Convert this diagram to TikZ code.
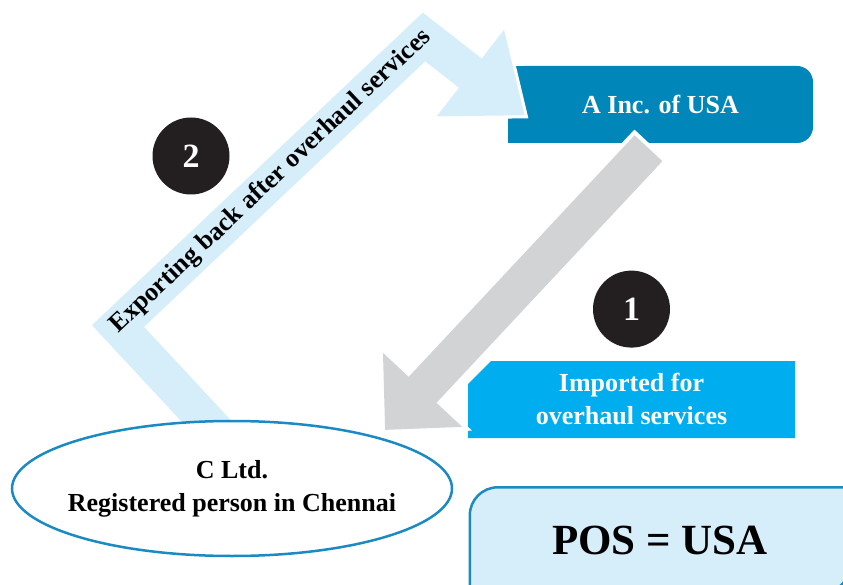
\documentclass[tikz,border=0pt]{standalone}
\usepackage{fontspec}
\setmainfont{Liberation Serif}
\usepackage{xcolor}
\definecolor{posTeal}{HTML}{0086B9}
\definecolor{posCyan}{HTML}{00AEEF}
\definecolor{posSky}{HTML}{D6EEFA}
\definecolor{posGray}{HTML}{D1D3D4}
\definecolor{posRing}{HTML}{1B8AC2}
\definecolor{posInk}{HTML}{231F20}
\usetikzlibrary{calc,arrows.meta,positioning,shapes.geometric,shapes.misc,backgrounds}

\begin{document}
\begin{tikzpicture}[x=1pt, y=-1pt,
    txt/.style={font=\bfseries\fontsize{26}{33}\selectfont, align=center, inner sep=0pt},
    incbox/.style={txt, fill=posTeal, text=white, rounded corners=16pt, minimum width=305pt, minimum height=77pt},
    impbox/.style={txt, fill=posCyan, text=white, chamfered rectangle, chamfered rectangle corners=north west, chamfered rectangle xsep=20pt, minimum width=327pt, minimum height=77pt},
    firm/.style={txt, ellipse, draw=posRing, line width=2.5pt, fill=white, inner xsep=-9pt, minimum width=440pt, minimum height=135pt},
    posbox/.style={minimum width=380pt, minimum height=105pt, font=\bfseries\fontsize{43}{50}\selectfont},
    posline/.style={draw=posRing, line width=2.5pt, fill=posSky},
    num/.style={circle, fill=posInk, text=white, minimum size=77pt, inner sep=0pt, font=\bfseries\fontsize{34}{40}\selectfont},
    lbl/.style={txt, text=black},
    imparr/.style={posGray, line width=38pt, -{Triangle[length=55pt, width=105pt]}},
    imphalo/.style={white, line width=46pt, shorten <=-4pt, shorten >=-6pt, -{Triangle[length=65pt, width=124pt]}},
    exparr/.style={posSky, line width=37pt, -{Triangle[length=69pt, width=105pt]}},
    exphalo/.style={white, line width=45pt, shorten >=-5pt, -{Triangle[length=78pt, width=119pt]}}
  ]
  \useasboundingbox (0,0) rectangle (843,585);
  \node[incbox] (inc) at (660.5,104.5) {A Inc. of USA};
  \fill[posTeal] (inc.north west) rectangle ($(inc.south west)+(30,0)$);
  \node[impbox] (imp) at (631.5,399.5) {Imported for\\overhaul services};
  \coordinate (expstart) at (224,440);
  \coordinate (bendlow) at (118,326);
  \coordinate (bendtop) at (424,37);
  \coordinate (imptip) at (385,430);
  \draw[exphalo] (expstart) -- (bendlow) -- (bendtop) -- ($(inc.west)+(17,11)$);
  \draw[exparr] (expstart) -- (bendlow) -- node[lbl, sloped] {Exporting back after overhaul services} (bendtop) -- ($(inc.west)+(17,11)$);
  \draw[imphalo] ($(inc.south)+(-12,5)$) -- (imptip);
  \draw[imparr] ($(inc.south)+(-12,5)$) -- (imptip);
  \node[firm] (cltd) at (232,488.5) {C Ltd.\\Registered person in Chennai};
  \node[num] (two) at (191,156) {2};
  \node[num, above=13pt of imp] (one) {1};
  \node[posbox] (pos) at (660,540) {POS = USA};
  \begin{scope}[on background layer]
    \filldraw[posline] (pos.south west) -- ($(pos.north west)+(0,28)$) arc[start angle=180, end angle=90, radius=28pt]
      -- (pos.north east) -- ($(pos.south east)+(0,-28)$) arc[start angle=0, end angle=-90, radius=28pt] -- cycle;
  \end{scope}
\end{tikzpicture}
\end{document}
